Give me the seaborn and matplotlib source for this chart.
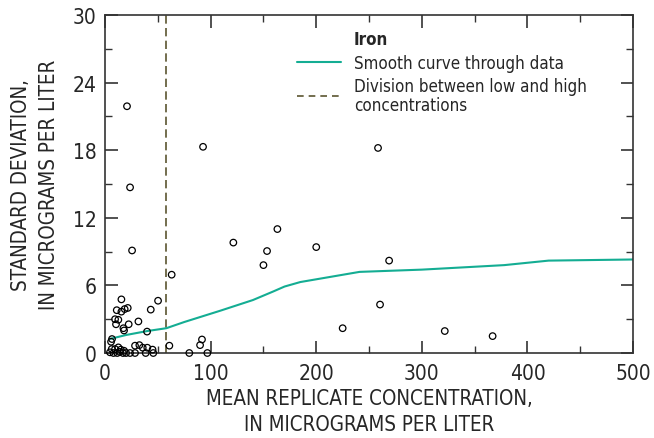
import pandas as pd
import seaborn as sns
import matplotlib
matplotlib.use("Agg")
import matplotlib.pyplot as plt
from matplotlib.lines import Line2D
from matplotlib.ticker import MultipleLocator

# mean replicate concentration (ug/L) and standard deviation (ug/L)
mean_conc = [20.8, 23.7, 25.6, 92.8, 258.5, 163.2, 121.5, 153.4, 150.0, 200.0,
             269.0, 260.4, 225.0, 321.7, 367.0, 91.8, 90.0, 96.9, 63.1, 15.5,
             50.2, 11.1, 15.5, 18.6, 21.5, 43.3, 9.5, 12.6, 31.6, 10.4,
             22.4, 17.4, 18.0, 39.8, 6.6, 5.7, 60.9, 28.4, 32.5, 35.7,
             40.0, 45.0, 6.3, 9.5, 12.6, 14.9, 18.0, 4.7, 11.6, 19.9,
             23.7, 28.4, 38.5, 45.7, 79.8, 17.0, 8.0, 14.0]
std_dev = [21.9, 14.7, 9.1, 18.3, 18.2, 11.0, 9.8, 9.05, 7.8, 9.4,
           8.2, 4.3, 2.2, 1.95, 1.5, 1.2, 0.7, 0.0, 6.95, 4.76,
           4.64, 3.8, 3.67, 3.9, 4.0, 3.85, 3.0, 2.95, 2.8, 2.55,
           2.55, 2.2, 2.0, 1.9, 1.24, 1.0, 0.65, 0.65, 0.7, 0.47,
           0.47, 0.3, 0.35, 0.35, 0.5, 0.3, 0.2, 0.06, 0.0, 0.0,
           0.0, 0.0, 0.0, 0.0, 0.0, 0.0, 0.0, 0.1]

# smooth curve through data
curve_x = [4.7, 20, 40, 58, 75, 109, 140, 159, 170, 185, 241, 300, 378, 420, 500]
curve_y = [1.25, 1.6, 1.95, 2.2, 2.75, 3.75, 4.7, 5.45, 5.9, 6.3, 7.2, 7.4, 7.8, 8.2, 8.3]

division = 58

pts = pd.DataFrame({"x": mean_conc, "y": std_dev})
crv = pd.DataFrame({"x": curve_x, "y": curve_y})

sns.set_style("ticks")
plt.rcParams["font.family"] = ["DejaVu Sans", "Liberation Sans"]
plt.rcParams["font.stretch"] = "condensed"

teal = "#14ad93"
olive = "#5b5530"

fig = plt.figure(figsize=(6.54, 4.39), dpi=100)
ax = fig.add_axes([0.1606, 0.1936, 0.8074, 0.77])

ax.axvline(division, color=olive, lw=1.2, ls=(0, (5, 2.6)), zorder=1)
sns.lineplot(data=crv, x="x", y="y", ax=ax, color=teal, lw=1.5, zorder=2)
sns.scatterplot(data=pts, x="x", y="y", ax=ax, marker="o", s=22,
                facecolor="none", edgecolor="black", linewidth=0.9,
                zorder=3, clip_on=False)

ax.set_xlim(0, 500)
ax.set_ylim(0, 30)
ax.xaxis.set_major_locator(MultipleLocator(100))
ax.xaxis.set_minor_locator(MultipleLocator(50))
ax.yaxis.set_major_locator(MultipleLocator(6))
ax.yaxis.set_minor_locator(MultipleLocator(3))
ax.tick_params(which="both", direction="in", top=True, right=True,
               labelsize=15, color="#333333")
ax.tick_params(which="major", length=9, width=1.2, pad=6)
ax.tick_params(axis="x", which="major", pad=7)
ax.tick_params(which="minor", length=5, width=1.0)
for s in ax.spines.values():
    s.set_linewidth(1.2)
    s.set_color("#333333")

ax.set_xlabel("MEAN REPLICATE CONCENTRATION,\nIN MICROGRAMS PER LITER",
              fontsize=14.8, labelpad=4, linespacing=1.35)
ax.set_ylabel("STANDARD DEVIATION,\nIN MICROGRAMS PER LITER",
              fontsize=14.8, labelpad=10, linespacing=1.5)

handles = [Line2D([], [], lw=0),
           Line2D([], [], color=teal, lw=1.5),
           Line2D([], [], color=olive, lw=1.2, ls=(0, (4, 3)))]
labels = ["Iron", "Smooth curve through data",
          "Division between low and high\nconcentrations"]
leg = ax.legend(handles, labels, loc="upper left",
                bbox_to_anchor=(0.364, 0.955), frameon=False, fontsize=12.2,
                handlelength=2.6, handletextpad=0.75, labelspacing=0.32,
                borderaxespad=0, borderpad=0)
leg.get_texts()[0].set_fontweight("bold")
for t in leg.get_texts():
    t.set_linespacing(1.05)

fig.savefig("out.png", dpi=100)
